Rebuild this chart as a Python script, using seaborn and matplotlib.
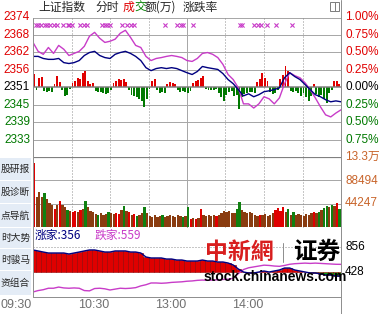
import numpy as np
import pandas as pd
import matplotlib
matplotlib.use("Agg")
import matplotlib.pyplot as plt
import seaborn as sns
from matplotlib.patches import Rectangle

# ---------------- data ----------------
prev_close = 2350.6
price_minutes = list(range(0, 241, 4))
index_values = [2361.0, 2361.0, 2360.3, 2360.0, 2360.0, 2360.3, 2358.9, 2358.6, 2358.9, 2359.6,
                2361.3, 2362.3, 2362.7, 2361.3, 2360.6, 2360.3, 2361.7, 2362.3, 2362.7, 2362.0,
                2361.0, 2359.6, 2357.2, 2356.2, 2356.9, 2357.2, 2356.9, 2357.2, 2356.9, 2356.2,
                2355.5, 2354.9, 2355.9, 2357.6, 2357.2, 2356.9, 2356.6, 2355.2, 2353.2, 2351.8,
                2349.8, 2347.7, 2348.4, 2347.4, 2348.1, 2349.1, 2349.4, 2349.8, 2350.4, 2353.8,
                2355.5, 2354.2, 2353.2, 2351.5, 2349.8, 2348.1, 2347.4, 2346.4, 2345.7, 2346.0, 2345.7]
lead_values = [2365.7, 2362.7, 2361.7, 2364.0, 2362.0, 2364.7, 2363.4, 2361.3, 2362.0, 2362.7,
               2364.4, 2367.8, 2369.1, 2367.1, 2365.7, 2366.1, 2366.8, 2368.8, 2369.8, 2367.4,
               2364.7, 2364.0, 2361.0, 2359.6, 2360.3, 2360.6, 2361.0, 2361.3, 2361.0, 2360.6,
               2359.6, 2359.3, 2360.3, 2362.0, 2362.3, 2361.7, 2360.6, 2358.3, 2354.9, 2353.2,
               2350.4, 2345.0, 2345.0, 2343.6, 2345.0, 2347.4, 2346.7, 2345.0, 2347.0, 2351.8,
               2355.5, 2354.5, 2353.8, 2352.1, 2349.8, 2347.0, 2344.0, 2341.3, 2340.6, 2341.9, 2343.0]

bin_minutes = list(range(0, 240, 2))
power_values = [13, -3, 9, 10, -4, -5, -4, -5, 3, 11,
                5, -3, -9, -8, -2, 4, 6, 9, 8, 14,
                16, 6, 3, 4, -4, -5, -5, -6, -7, -6,
                -3, 4, 6, 8, 7, 8, 5, -3, -8, -9,
                -10, -12, -14, -20, -12, -2, 6, 8, -3, -6,
                -5, -6, 3, 5, 4, 3, -3, -5, -4, -5,
                -6, -4, 4, 6, 7, 9, 11, -2, -3, -3,
                -3, -2, -6, -10, -14, -8, -5, -4, -9, -8,
                -22, -10, -7, -6, -5, -5, -6, 5, 8, 14,
                9, 6, -5, -7, -6, -3, 8, 12, 21, 16,
                -4, -5, -4, -6, -9, -6, -10, -14, -9, 3,
                -7, -10, -8, -12, -16, -6, -3, 6, 6, 3]
volume_values = [121600, 57000, 66500, 57000, 64600, 53200, 45600, 41800, 34200, 41800,
                 49400, 41800, 38000, 32300, 30400, 28500, 30400, 28500, 32300, 34200,
                 49400, 38000, 30400, 28500, 24700, 22800, 26600, 22800, 24700, 28500,
                 26600, 24700, 26600, 24700, 32300, 39900, 30400, 28500, 22800, 24700,
                 20900, 22800, 26600, 38000, 26600, 20900, 19000, 22800, 19000, 20900,
                 22800, 19000, 20900, 22800, 20900, 19000, 22800, 20900, 19000, 20900,
                 38000, 15200, 17100, 15200, 17100, 34200, 22800, 20900, 22800, 20900,
                 22800, 20900, 22800, 26600, 30400, 28500, 30400, 26600, 26600, 34200,
                 47500, 32300, 28500, 26600, 28500, 26600, 22800, 20900, 22800, 22800,
                 24700, 20900, 22800, 26600, 32300, 36100, 30400, 38000, 28500, 34200,
                 22800, 28500, 22800, 24700, 22800, 20900, 24700, 22800, 26600, 28500,
                 26600, 28500, 32300, 36100, 39900, 38000, 41800, 39900, 45600, 34200]
volume_dirs = ("rbbbgbbbrb" "rbbgbrrbrb" "gbbbbgbbbg" "bbrrbgbrbr" "gbbgbbbbbb"
               "gbbbbbbbgb" "grbrbrbbbb" "brbbbbbbbg" "gbbbbbbbrb" "bbbbrrrrbg"
               "bgbbbbbbbr" "bgbggbgbrg")

up_counts = [805, 788, 770, 753, 753, 753, 753, 736, 753, 770,
             788, 805, 805, 788, 770, 770, 788, 788, 788, 770,
             770, 753, 685, 668, 668, 668, 650, 650, 633, 633,
             616, 616, 616, 633, 616, 616, 599, 599, 582, 548,
             479, 428, 411, 411, 428, 445, 428, 445, 462, 496,
             496, 462, 445, 428, 411, 411, 394, 377, 377, 360, 356]
down_counts = [86, 110, 125, 150, 150, 170, 155, 150, 155, 150,
               110, 105, 145, 150, 140, 120, 135, 150, 145, 150,
               160, 190, 210, 240, 240, 235, 240, 250, 255, 260,
               270, 275, 285, 290, 285, 290, 295, 300, 305, 320,
               400, 470, 500, 515, 530, 545, 540, 530, 525, 540,
               560, 570, 575, 580, 575, 580, 575, 570, 565, 560, 559]
marker_minutes = [2, 4, 6, 9, 11, 13, 16, 19, 23, 27, 28, 30, 37, 40, 42, 54, 56, 58, 60,
                  69, 73, 76, 79, 103, 112, 115, 117, 125, 161, 163, 172, 175, 178, 182, 189, 202]

left_labels = ["2374", "2368", "2362", "2356", "2351", "2345", "2339", "2333"]
right_labels = ["1.00%", "0.75%", "0.50%", "0.25%", "0.00%", "0.25%", "0.50%", "0.75%"]
pct_levels = [1.0, 0.75, 0.5, 0.25, 0.0, -0.25, -0.5, -0.75]
vol_levels = [132741, 88494, 44247]
vol_labels = ["13.3万", "88494", "44247"]
breadth_levels = [856, 428]
breadth_labels = ["856", "428"]
time_labels = ["09:30", "10:30", "13:00", "14:00"]
time_minutes = [0, 60, 120, 180]
side_labels = ["股研报", "股诊断", "点导航", "时大势", "时骏马", "资组合"]
up_total, down_total = 356, 559

# ---------------- style ----------------
sns.set_style("white")
plt.rcParams["font.family"] = ["Liberation Sans", "Noto Sans CJK SC", "DejaVu Sans"]
CJK = ["Noto Sans CJK SC", "DejaVu Sans"]

W, H = 385, 314
fig = plt.figure(figsize=(W / 100, H / 100), dpi=100)
fig.patch.set_facecolor("white")

NAVY = "#000080"
MAG = "#c83cc8"
RED = "#e00000"
GRN = "#007800"
BROWN = "#8a3c10"
GRID = "#a8a8a8"
PX = 0.72  # points per pixel


def rect(top, bottom):
    return [33 / W, 1 - bottom / H, 308 / W, (bottom - top) / H]


def ftext(x, y, s, **kw):
    return fig.text(x / W, 1 - y / H, s, **kw)


def vgrid(ax):
    for m in [30, 60, 90, 150, 180, 210]:
        ax.axvline(m, color="#909090", lw=PX, ls=(0, (1, 2)), zorder=1)
    ax.axvline(120, color=GRID, lw=PX, zorder=1)


XLIM = (0, 240)

# ---------------- price panel ----------------
ax_pow = fig.add_axes(rect(17.5, 157))
ax_pow.set_axis_off()
ax_pow.set_xlim(*XLIM)
ax_pow.set_ylim(-69.75, 69.75)
for lv in [0.75, 0.5, 0.25, -0.25, -0.5, -0.75]:
    ax_pow.axhline(lv / 0.25 * 17.4375, color=GRID, lw=PX, zorder=1)
ax_pow.axhline(69.6, color=GRID, lw=PX, zorder=1)
vgrid(ax_pow)
pcol = [RED if v > 0 else GRN for v in power_values]
ax_pow.bar(bin_minutes, power_values, width=1.5, align="edge", color=pcol, lw=0, zorder=2)
ax_pow.axhline(0, color="#808080", lw=1.5 * PX, zorder=3)
ax_pow.scatter(marker_minutes, [62] * len(marker_minutes), marker="x", s=9,
               color=MAG, lw=0.8, zorder=4)

ax_price = fig.add_axes(rect(17.5, 157))
ax_price.set_axis_off()
ax_price.patch.set_alpha(0)
price_df = pd.DataFrame({"minute": price_minutes, "index": index_values, "lead": lead_values})
sns.lineplot(data=price_df, x="minute", y="lead", ax=ax_price, color=MAG, lw=1.0,
             estimator=None, sort=False, legend=False)
sns.lineplot(data=price_df, x="minute", y="index", ax=ax_price, color=NAVY, lw=1.0,
             estimator=None, sort=False, legend=False)
ax_price.set_xlim(*XLIM)
ax_price.set_ylim(prev_close * 0.99, prev_close * 1.01)
ax_price.set_axis_off()

# ---------------- volume panel ----------------
ax_vol = fig.add_axes(rect(157, 228))
ax_vol.set_axis_off()
ax_vol.set_xlim(*XLIM)
ax_vol.set_ylim(-1900, 132741)
for lv in vol_levels[1:]:
    ax_vol.axhline(lv, color=GRID, lw=PX, zorder=1)
vgrid(ax_vol)
cmap = {"r": RED, "g": "#108010", "b": BROWN}
ax_vol.bar(bin_minutes, volume_values, width=1.8, align="edge",
           color=[cmap[c] for c in volume_dirs], lw=0, zorder=2)
ax_vol.axhline(132741, color="#808080", lw=2.2 * PX, zorder=3)
ax_vol.axhline(-1900, color=GRID, lw=PX, zorder=3)

# ---------------- breadth panel ----------------
ax_br = fig.add_axes(rect(228, 297))
ax_br.set_axis_off()
ax_br.set_xlim(*XLIM)
ax_br.set_ylim(0, 1181)
ax_br.axhline(856, color="#909090", lw=PX, ls=(0, (1, 2)), zorder=1)
diff = np.array(up_counts) - 428
bcol = [RED if d >= 0 else "#10a010" for d in diff]
ax_br.bar(price_minutes, diff, bottom=428, width=4, color=bcol,
          edgecolor="#900000", lw=0.4, zorder=2)
br_df = pd.DataFrame({"minute": price_minutes, "up": up_counts, "down": down_counts})
sns.lineplot(data=br_df, x="minute", y="down", ax=ax_br, color=MAG, lw=1.0,
             estimator=None, sort=False, legend=False)
sns.lineplot(data=br_df, x="minute", y="up", ax=ax_br, color=NAVY, lw=1.0,
             estimator=None, sort=False, legend=False)
ax_br.set_xlim(*XLIM)
ax_br.set_ylim(0, 1181)
ax_br.set_axis_off()

# ---------------- frame lines ----------------
def fline(x0, y0, x1, y1, **kw):
    fig.add_artist(plt.Line2D([x0 / W, x1 / W], [1 - y0 / H, 1 - y1 / H],
                              transform=fig.transFigure, **kw))

fline(33, 17.5, 33, 297, color="#909090", lw=PX)
fline(341, 0, 341, 314, color="#909090", lw=PX)
fline(33, 297, 341, 297, color="#909090", lw=PX)

# ---------------- labels ----------------
for lv, lab in zip(pct_levels, left_labels):
    y = 87.25 - lv / 0.25 * 17.4375
    c = RED if lv > 0 else ("black" if lv == 0 else GRN)
    ftext(30, y, lab, ha="right", va="center", fontsize=8.5, color=c)
for lv, lab in zip(pct_levels, right_labels):
    y = 87.25 - lv / 0.25 * 17.4375
    c = RED if lv > 0 else ("black" if lv == 0 else GRN)
    ftext(345, y, lab, ha="left", va="center", fontsize=8.5, color=c)
for y, lab in zip([157, 180.5, 203.5], vol_labels):
    ftext(345, y, lab, ha="left", va="center", fontsize=8.5, color="#c8642a",
          family=["Liberation Sans", "Noto Sans CJK SC"])
for y, lab in zip([247, 272], breadth_labels):
    ftext(345, y, lab, ha="left", va="center", fontsize=8.5, color="black")
for m, lab in zip(time_minutes, time_labels):
    x = 33 + m * 308 / 240
    ftext(x - 1, 305, lab, ha="right", va="center", fontsize=9, color="#707070")

# header
ftext(38, 7, "上证指数", ha="left", va="center", fontsize=8.5, family=CJK)
ftext(95, 7, "分时", ha="left", va="center", fontsize=8.5, family=CJK)
ftext(123, 7, "成", ha="left", va="center", fontsize=8.5, family=CJK, color=RED)
ftext(134, 7, "交", ha="left", va="center", fontsize=8.5, family=CJK, color="#008000")
ftext(145, 7, "额(万)", ha="left", va="center", fontsize=8.5, family=CJK)
ftext(183, 7, "涨跌率", ha="left", va="center", fontsize=8.5, family=CJK)
fig.add_artist(Rectangle((330 / W, 1 - 11 / H), 9 / W, 9 / H, transform=fig.transFigure,
                         fill=False, ec="#808080", lw=PX))
fline(335, 2, 335, 11, color="#808080", lw=PX)

# breadth text
ftext(35, 235, f"涨家:{up_total}", ha="left", va="center", fontsize=8.5, family=CJK, color=NAVY)
ftext(95, 235, f"跌家:{down_total}", ha="left", va="center", fontsize=8.5, family=CJK, color=MAG)

# side buttons
side_y = [(158, 180), (181, 203), (204, 227), (228, 248), (249, 270), (271, 295)]
for (t, b), lab in zip(side_y, side_labels):
    fig.add_artist(Rectangle((0, 1 - b / H), 31 / W, (b - t) / H, transform=fig.transFigure,
                             fc="#e4ecf6", ec="none"))
    ftext(30, (t + b) / 2, lab, ha="right", va="center", fontsize=7, family=CJK)

# watermark
ftext(239, 252, "中新網", ha="center", va="center", fontsize=16.5, color="#d81e1e",
      family=["Noto Sans CJK TC", "DejaVu Sans"], fontweight="bold")
fline(283, 243, 283, 262, color="#909090", lw=PX)
ftext(317, 252, "证券", ha="center", va="center", fontsize=17, color="black",
      family=CJK, fontweight="bold")
ftext(275, 277, "stock.chinanews.com", ha="center", va="center", fontsize=10,
      color="black", fontweight="bold")

fig.savefig("out.png", dpi=100)
